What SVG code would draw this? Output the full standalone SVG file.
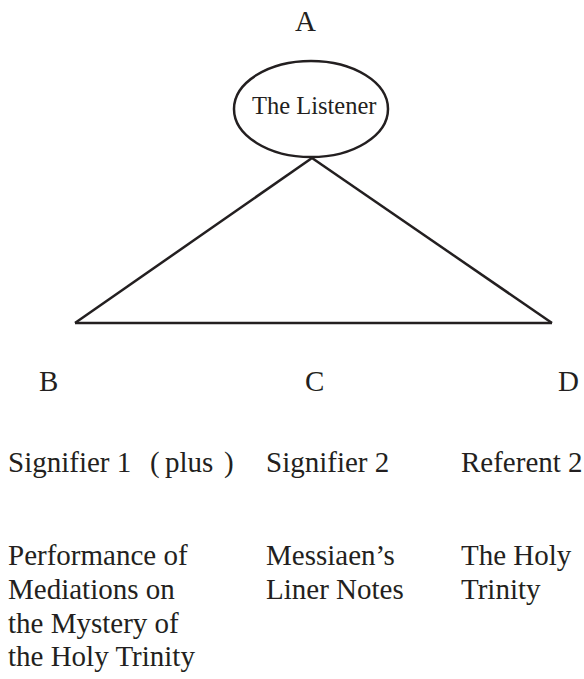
<svg xmlns="http://www.w3.org/2000/svg" width="584" height="679" viewBox="0 0 584 679">
<style>
text{fill:#231f20;font-size:29px}
.small{font-size:24.5px}
.edge{stroke:#231f20;stroke-width:2.5;fill:none;stroke-linecap:butt;stroke-linejoin:miter}
.node{stroke:#231f20;stroke-width:2.5;fill:#fff}
</style>
<rect width="584" height="679" fill="#fff"/>
<g font-family="'Liberation Serif', 'Times New Roman', Tinos, 'DejaVu Serif', serif">
<g id="connectors">
<line class="edge" x1="312" y1="158" x2="75" y2="323"/>
<line class="edge" x1="312" y1="158" x2="552" y2="323"/>
<line class="edge" x1="75" y1="323" x2="552" y2="323"/>
</g>
<g id="node-A">
<text x="295" y="31">A</text>
<ellipse class="node" cx="311" cy="109" rx="77" ry="48"/>
<text class="small" x="252" y="114">The Listener</text>
</g>
<g id="node-B">
<text x="39" y="391">B</text>
<text x="8" y="472">Signifier 1</text>
<text x="150" y="472">(</text>
<text x="165" y="472">plus</text>
<text x="224" y="472">)</text>
<text x="8" y="565">Performance of</text>
<text x="8" y="599">Mediations on</text>
<text x="8" y="633">the Mystery of</text>
<text x="8" y="666">the Holy Trinity</text>
</g>
<g id="node-C">
<text x="305" y="391">C</text>
<text x="266" y="472">Signifier 2</text>
<text x="266" y="565">Messiaen’s</text>
<text x="266" y="599">Liner Notes</text>
</g>
<g id="node-D">
<text x="558" y="391">D</text>
<text x="461" y="472">Referent 2</text>
<text x="461" y="565">The Holy</text>
<text x="461" y="599">Trinity</text>
</g>
</g>
</svg>
